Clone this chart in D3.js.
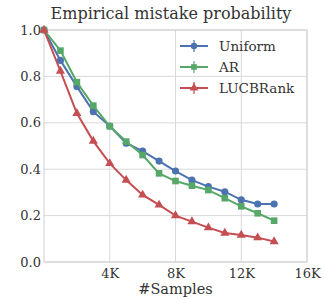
<!DOCTYPE html>
<html lang="en">
<head>
<meta charset="utf-8">
<script src="https://d3js.org/d3.v7.min.js"></script>
<style>
  body { margin: 0; background: #fff; }
  svg { display: block; font-family: "DejaVu Serif", serif; }
</style>
</head>
<body>
<script>
// data
var samples = [0, 1000, 2000, 3000, 4000, 5000, 6000, 7000, 8000, 9000, 10000, 11000, 12000, 13000, 14000];
var uniform = [1.0, 0.869, 0.756, 0.648, 0.586, 0.512, 0.478, 0.435, 0.392, 0.353, 0.325, 0.303, 0.268, 0.25, 0.25];
var ar      = [1.0, 0.911, 0.775, 0.674, 0.585, 0.519, 0.461, 0.382, 0.349, 0.329, 0.31, 0.275, 0.24, 0.21, 0.178];
var lucb    = [1.0, 0.823, 0.641, 0.521, 0.425, 0.353, 0.289, 0.246, 0.2, 0.174, 0.148, 0.125, 0.116, 0.105, 0.088];
var names = ["Uniform", "AR", "LUCBRank"];
var xTicks = [4000, 8000, 12000, 16000];
var yTicks = [0, 0.2, 0.4, 0.6, 0.8, 1.0];

var series = [
  {name: names[0], values: uniform, color: "#4C72B0", shape: d3.symbolCircle, size: 40},
  {name: names[1], values: ar, color: "#55A868", shape: d3.symbolSquare, size: 44},
  {name: names[2], values: lucb, color: "#C44E52", shape: d3.symbolTriangle, size: 36}
];

var W = 324, H = 299;
var margin = {top: 30, right: 17, bottom: 37, left: 44};
var width = W - margin.left - margin.right,
    height = H - margin.top - margin.bottom;

var svg = d3.select("body").append("svg").attr("width", W).attr("height", H);
var g = svg.append("g").attr("transform", "translate(" + margin.left + "," + margin.top + ")");

var x = d3.scaleLinear().domain([0, 16000]).range([0, width]);
var y = d3.scaleLinear().domain([0, 1]).range([height, 0]);

// grid
g.selectAll(".gx").data(xTicks).enter().append("line")
  .attr("x1", d => x(d)).attr("x2", d => x(d)).attr("y1", 0).attr("y2", height)
  .attr("stroke", "#d9d9d9").attr("stroke-width", 1);
g.selectAll(".gy").data(yTicks).enter().append("line")
  .attr("x1", 0).attr("x2", width).attr("y1", d => y(d)).attr("y2", d => y(d))
  .attr("stroke", "#d9d9d9").attr("stroke-width", 1);
g.append("rect").attr("width", width).attr("height", height)
  .attr("fill", "none").attr("stroke", "#d0d0d0").attr("stroke-width", 1);

var xAxis = g.append("g").attr("transform", "translate(0," + height + ")")
  .call(d3.axisBottom(x).tickValues(xTicks).tickSize(0).tickPadding(7)
    .tickFormat(d => (d / 1000) + "K"));
var yAxis = g.append("g")
  .call(d3.axisLeft(y).tickValues(yTicks).tickSize(0).tickPadding(3)
    .tickFormat(d3.format(".1f")));
xAxis.select(".domain").remove();
yAxis.select(".domain").remove();
svg.selectAll(".tick text").attr("font-family", "DejaVu Serif").attr("font-size", 13).attr("fill", "#333");

var line = d3.line().x((d, i) => x(samples[i])).y(d => y(d));

series.forEach(function(s) {
  g.append("path").datum(s.values).attr("d", line)
    .attr("fill", "none").attr("stroke", s.color).attr("stroke-width", 2);
  g.selectAll(null).data(s.values).enter().append("path")
    .attr("transform", (d, i) => "translate(" + x(samples[i]) + "," + y(d) + ")")
    .attr("d", d3.symbol().type(s.shape).size(s.size))
    .attr("fill", s.color);
});

// legend
var leg = svg.append("g").attr("transform", "translate(180,46)");
series.forEach(function(s, i) {
  var e = leg.append("g").attr("transform", "translate(0," + (i * 21) + ")");
  e.append("line").attr("x1", 0).attr("x2", 28).attr("stroke", s.color).attr("stroke-width", 2);
  e.append("line").attr("x1", 14).attr("x2", 14).attr("y1", -6).attr("y2", 6)
    .attr("stroke", s.color).attr("stroke-width", 1.2);
  e.append("path").attr("transform", "translate(14,0)")
    .attr("d", d3.symbol().type(s.shape).size(32)).attr("fill", s.color);
  e.append("text").attr("x", 39).attr("y", 5).text(s.name)
    .attr("font-size", 13.5).attr("fill", "#333");
});

svg.append("text").attr("x", 171).attr("y", 19)
  .attr("text-anchor", "middle").attr("font-size", 16).attr("fill", "#333")
  .text("Empirical mistake probability");
svg.append("text").attr("x", margin.left + width / 2).attr("y", 294)
  .attr("text-anchor", "middle").attr("font-size", 14.5).attr("fill", "#333")
  .text("#Samples");
</script>
</body>
</html>
